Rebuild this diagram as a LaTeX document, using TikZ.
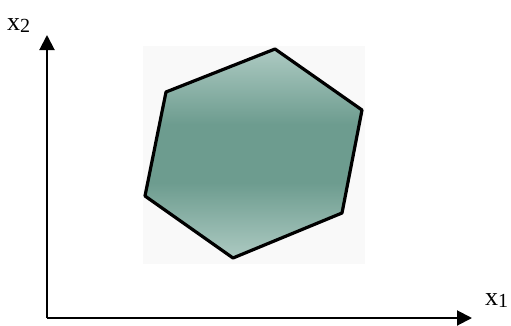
\documentclass[tikz,border=0pt]{standalone}
\usepackage{fontspec}
\setmainfont{Liberation Serif}
\usetikzlibrary{arrows.meta}
\definecolor{hexlight}{HTML}{ADCAC2}
\definecolor{hexdark}{HTML}{6D9C8F}
\definecolor{bgfaint}{HTML}{F9F9F9}
\pgfdeclareverticalshading{hexshade}{100bp}{
  color(0bp)=(hexlight); color(25bp)=(hexlight); color(43bp)=(hexdark);
  color(57bp)=(hexdark); color(75bp)=(hexlight); color(100bp)=(hexlight)}
\tikzset{
  axis/.style={line width=2pt, -{Triangle[length=15pt,width=15pt]}},
  hexedge/.style={line width=3.2pt, line join=round, draw=black},
  axlabel/.style={anchor=base west, inner sep=0pt, font=\fontsize{26}{26}\selectfont}
}
\newcommand{\subtwo}[1]{\raisebox{-2.5pt}{\fontsize{20}{20}\selectfont #1}}
\begin{document}
\begin{tikzpicture}[x=1pt,y=-1pt]
\useasboundingbox (0,0) rectangle (511,325);
\coordinate (O) at (47,318);
\coordinate (Ytip) at (47,35);
\coordinate (Xtip) at (472,318);
\coordinate (h1) at (166,92);
\coordinate (h2) at (275,49);
\coordinate (h3) at (362,110);
\coordinate (h4) at (342,213);
\coordinate (h5) at (233,258);
\coordinate (h6) at (145,196);
\fill[bgfaint] (143,46) rectangle (365,264);
\shade[shading=hexshade]
  (h1) -- (h2) -- (h3) -- (h4) -- (h5) -- (h6) -- cycle;
\draw[hexedge] (h1) -- (h2) -- (h3) -- (h4) -- (h5) -- (h6) -- cycle;
\draw[axis] (O) -- (Ytip);
\draw[axis] (O) -- (Xtip);
\node[axlabel] (lx2) at (7,30) {x\subtwo{2}};
\node[axlabel] (lx1) at (485,305) {x\subtwo{1}};
\end{tikzpicture}
\end{document}
